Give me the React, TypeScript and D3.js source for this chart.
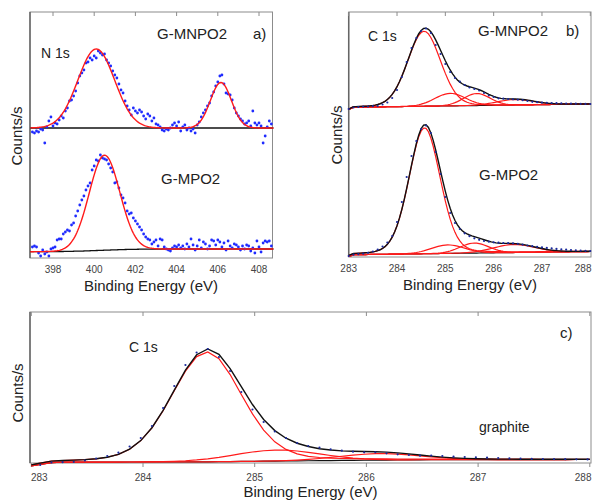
import React from "react";
import * as d3 from "d3";

const FONT = "'Liberation Sans', Arial, Helvetica, sans-serif";

// ---------- Panel a: N 1s ----------
const N1S_TICKS = [398, 400, 402, 404, 406, 408];
// measured points, G-MNPO2 (upper trace)
const N1S_MNPO2_DOTS: [number, number][] = [
  [397.0,126],[397.1,125],[397.2,127],[397.3,126],[397.4,129],[397.5,128],[397.6,115],[397.7,131],[397.8,137],[397.9,141],
  [398.0,132],[398.1,135],[398.2,134],[398.3,138],[398.4,142],[398.5,140],[398.6,147],[398.7,150],[398.8,157],[398.9,158],
  [399.0,162],[399.1,167],[399.2,175],[399.3,182],[399.4,185],[399.5,188],[399.6,195],[399.7,196],[399.8,200],[399.9,198],
  [400.0,202],[400.1,200],[400.2,207],[400.3,205],[400.4,203],[400.5,204],[400.6,198],[400.7,195],[400.8,192],[400.9,187],
  [401.0,183],[401.1,180],[401.2,174],[401.3,168],[401.4,165],[401.5,157],[401.6,152],[401.7,148],[401.8,143],[401.9,150],
  [402.0,147],[402.1,145],[402.2,148],[402.3,146],[402.4,142],[402.5,139],[402.6,144],[402.7,142],[402.8,137],[402.9,140],
  [403.0,134],[403.1,133],[403.2,131],[403.3,128],[403.4,127],[403.5,129],[403.6,128],[403.7,130],[403.8,133],[403.9,135],
  [404.0,132],[404.1,136],[404.2,127],[404.3,131],[404.4,133],[404.5,128],[404.6,130],[404.7,127],[404.8,129],[404.9,125],
  [405.0,133],[405.1,136],[405.2,141],[405.3,145],[405.4,148],[405.5,152],[405.6,155],[405.7,162],[405.8,166],[405.9,172],
  [406.0,176],[406.1,182],[406.2,183],[406.3,174],[406.4,165],[406.5,164],[406.6,163],[406.7,158],[406.8,150],[406.9,145],
  [407.0,142],[407.1,139],[407.2,137],[407.3,134],[407.4,135],[407.5,137],[407.6,132],[407.7,147],[407.8,135],[407.9,133],
  [408.0,135],[408.1,132],[408.2,115],[408.3,122],[408.4,131],[408.5,137],[408.6,134],
];
// measured points, G-MPO2 (lower trace)
const N1S_MPO2_DOTS: [number, number][] = [
  [397.0,11],[397.1,12],[397.2,11],[397.3,5],[397.4,2],[397.5,8],[397.6,4],[397.7,6],[397.8,2],[397.9,9],
  [398.0,10],[398.1,11],[398.2,18],[398.3,19],[398.4,19],[398.5,24],[398.6,26],[398.7,28],[398.8,27],[398.9,33],
  [399.0,35],[399.1,42],[399.2,47],[399.3,53],[399.4,58],[399.5,62],[399.6,68],[399.7,72],[399.8,75],[399.9,88],
  [400.0,92],[400.1,98],[400.2,97],[400.3,103],[400.4,100],[400.5,99],[400.6,98],[400.7,94],[400.8,90],[400.9,86],
  [401.0,75],[401.1,76],[401.2,70],[401.3,63],[401.4,60],[401.5,55],[401.6,47],[401.7,44],[401.8,45],[401.9,40],
  [402.0,37],[402.1,34],[402.2,31],[402.3,28],[402.4,24],[402.5,21],[402.6,19],[402.7,18],[402.8,14],[402.9,16],
  [403.0,18],[403.1,12],[403.2,19],[403.3,18],[403.4,11],[403.5,9],[403.6,8],[403.7,7],[403.8,10],[403.9,12],
  [404.0,11],[404.1,13],[404.2,10],[404.3,12],[404.4,9],[404.5,14],[404.6,11],[404.7,19],[404.8,13],[404.9,8],
  [405.0,12],[405.1,18],[405.2,10],[405.3,16],[405.4,14],[405.5,9],[405.6,12],[405.7,18],[405.8,17],[405.9,13],
  [406.0,18],[406.1,16],[406.2,11],[406.3,15],[406.4,8],[406.5,17],[406.6,12],[406.7,10],[406.8,14],[406.9,13],
  [407.0,11],[407.1,8],[407.2,12],[407.3,9],[407.4,13],[407.5,12],[407.6,7],[407.7,10],[407.8,5],[407.9,17],
  [408.0,11],[408.1,6],[408.2,15],[408.3,17],[408.4,16],[408.5,17],[408.6,12],
];
// fitted backgrounds [energy, counts]
const N1S_MNPO2_BG: [number, number][] = [[396.9,130],[408.7,130]];
const N1S_MPO2_BG: [number, number][] = [[396.9,6.3],[398.5,6.5],[399.5,7],[400.5,7.8],[401.5,8.5],[402.5,8.9],[403.5,9],[408.7,9]];
// fitted peaks: centre (eV), height, FWHM (eV), Lorentzian fraction
const N1S_MNPO2_PEAKS: [number, number, number, number][] = [[400.1,79,2.1,0],[406.15,45.5,1.2,0]];
const N1S_MPO2_PEAKS: [number, number, number, number][] = [[400.5,95,1.75,0]];

// ---------- Panel b: C 1s of G-MNPO2 / G-MPO2 ----------
const C1S_TICKS = [283, 284, 285, 286, 287, 288];
const C1S_MNPO2_DOTS: [number, number][] = [
  [283.0,148],[283.1,149.5],[283.2,150],[283.3,150.3],[283.4,150.5],[283.5,150.8],[283.6,151],[283.7,152.5],[283.8,154.5],[283.9,159],
  [284.0,167],[284.1,180],[284.2,195],[284.3,209],[284.4,219],[284.5,226],[284.6,228.5],[284.7,224],[284.8,212],[284.9,203],
  [285.0,193],[285.1,185],[285.2,179],[285.3,175.3],[285.4,172],[285.5,169.5],[285.6,168],[285.7,166.5],[285.8,164],[285.9,161.5],
  [286.0,160],[286.1,158.7],[286.2,158.3],[286.3,158],[286.4,157.7],[286.5,157.3],[286.6,156.8],[286.7,156],[286.8,155.2],[286.9,154.8],
  [287.0,154.4],[287.1,154.2],[287.2,154],[287.3,153.8],[287.4,153.7],[287.5,153.5],[287.6,153.4],[287.7,153.3],[287.8,153.2],[287.9,153.1],
  [288.0,153],
];
const C1S_MPO2_DOTS: [number, number][] = [
  [283.0,1],[283.1,2.3],[283.2,2.8],[283.3,3.3],[283.4,4.2],[283.5,5.5],[283.6,7.5],[283.7,10.5],[283.8,14.5],[283.9,21],
  [284.0,35],[284.1,55],[284.2,80],[284.3,101],[284.4,116],[284.5,128],[284.6,131.5],[284.7,124],[284.8,105],[284.9,83],
  [285.0,60],[285.1,44],[285.2,34],[285.3,28],[285.4,23.7],[285.5,20.8],[285.6,18.7],[285.7,17.2],[285.8,16],[285.9,15.3],
  [286.0,14.7],[286.1,14.3],[286.2,14],[286.3,13.8],[286.4,13.6],[286.5,13.2],[286.6,12.3],[286.7,11.5],[286.8,10.8],[286.9,10.2],
  [287.0,9.6],[287.1,9.1],[287.2,8.6],[287.3,8.1],[287.4,7.7],[287.5,7.3],[287.6,7],[287.7,6.7],[287.8,6.4],[287.9,6.2],
  [288.0,6],
];
const C1S_MNPO2_BG: [number, number][] = [[283.0,147.5],[283.1,149.8],[288.0,153]];
const C1S_MPO2_BG: [number, number][] = [[283.0,0.5],[283.1,2.3],[288.0,5.5]];
const C1S_MNPO2_PEAKS: [number, number, number, number][] = [[284.56,75,0.8,0.1],[285.1,12.5,0.75,0],[285.65,12,0.65,0],[286.45,5.5,0.9,0]];
const C1S_MPO2_PEAKS: [number, number, number, number][] = [[284.57,126,0.76,0.15],[285.05,8.5,0.8,0],[285.6,10,0.7,0],[286.42,8,1.0,0]];

// ---------- Panel c: C 1s of graphite ----------
const GRAPHITE_DOTS: [number, number][] = [
  [283.08,-2],[283.18,0.5],[283.28,0.8],[283.38,1.2],[283.48,2.5],[283.58,4.5],[283.68,7],[283.78,10.3],[283.88,16.5],[283.98,25],
  [284.08,37],[284.18,55],[284.28,77],[284.38,98],[284.48,110.5],[284.58,114],[284.68,106],[284.78,92],[284.88,71],[284.98,53.5],
  [285.08,41],[285.18,31.5],[285.28,25],[285.38,20],[285.48,17],[285.58,15.3],[285.68,13.7],[285.78,12.3],[285.88,11.3],[285.98,10.7],
  [286.08,10.7],[286.18,9.7],[286.28,8.7],[286.38,8],[286.48,7.3],[286.58,7.5],[286.68,7],[286.78,6.3],[286.88,6],[286.98,5.7],
  [287.08,5.3],[287.18,5],[287.28,4.7],[287.38,4.4],[287.48,4.2],[287.58,4],[287.68,3.9],[287.78,3.8],[287.88,3.7],[287.98,3.6],
];
const GRAPHITE_BG: [number, number][] = [[283.0,-3],[283.1,-1],[283.2,0.8],[284.6,1.2],[285.6,2.4],[286.6,3.3],[288.0,3.5]];
const GRAPHITE_PEAKS: [number, number, number, number][] = [[284.57,110,0.74,0.2],[285.2,11,0.9,0],[286.12,6.5,0.85,0]];

// ---------- helpers ----------
function pv(e: number, p: [number, number, number, number]) {
  const [c, h, w, eta] = p;
  const d = e - c;
  const s = w / 2.35482;
  const g = Math.exp(-(d * d) / (2 * s * s));
  const l = 1 / (1 + (2 * d / w) ** 2);
  return h * (eta * l + (1 - eta) * g);
}
function bgFn(bg: [number, number][]) {
  return d3.scaleLinear().domain(bg.map((b) => b[0])).range(bg.map((b) => b[1])).clamp(true);
}

const RED = "#ff1a1a";
const BLACK = "#111111";
const FRAME = "#8c8c8c";

type XS = d3.ScaleLinear<number, number>;

function Frame(props: {
  xs: XS; left: number; right: number; top: number; bottom: number;
  ticks: number[]; labelY: number; outTicks?: boolean; firstStart?: boolean;
}) {
  const { xs, left, right, top, bottom, ticks, labelY, outTicks, firstStart } = props;
  return (
    <g>
      <rect x={left} y={top} width={right - left} height={bottom - top} fill="none" stroke={FRAME} strokeWidth={1} />
      <line x1={left} x2={left} y1={top} y2={bottom} stroke="#666" strokeWidth={1.5} />
      {ticks.map((t, i) => {
        const first = firstStart && i === 0;
        const tx = xs(t);
        const last = tx + 9 > 592;
        return (
          <g key={t}>
            <line x1={tx} x2={tx} y1={top} y2={top + 4} stroke={FRAME} strokeWidth={1} />
            {outTicks && <line x1={tx} x2={tx} y1={bottom} y2={bottom + 4} stroke={FRAME} strokeWidth={1} />}
            <text x={first ? left + 1 : last ? 591.5 : tx} y={labelY}
              textAnchor={first ? "start" : last ? "end" : "middle"} fontSize={10} fill="#444" fontFamily={FONT}>{t}</text>
          </g>
        );
      })}
    </g>
  );
}

function Label(props: { x: number; y: number; size?: number; children: React.ReactNode; anchor?: string }) {
  return (
    <text x={props.x} y={props.y} fontSize={props.size ?? 15} fill="#222" fontFamily={FONT}
      textAnchor={(props.anchor as any) ?? "start"}>{props.children}</text>
  );
}

function VLabel(props: { x: number; y: number; text: string }) {
  return (
    <text transform={`translate(${props.x},${props.y}) rotate(-90)`} textAnchor="middle"
      fontSize={15} fill="#222" fontFamily={FONT}>{props.text}</text>
  );
}

function Dots(props: { data: [number, number][]; xs: XS; ys: XS; r: number; fill: string }) {
  return (
    <g>
      {props.data.map((d, i) => (
        <circle key={i} cx={props.xs(d[0])} cy={props.ys(d[1])} r={props.r} fill={props.fill} />
      ))}
    </g>
  );
}

// Decomposed spectrum (panels b and c)
function Decomposed(props: {
  xs: XS; ys: XS; grid: number[]; bg: [number, number][]; peaks: [number, number, number, number][];
  dots: [number, number][];
}) {
  const { xs, ys, grid, bg, peaks, dots } = props;
  const b = bgFn(bg);
  const line = d3.line<[number, number]>().x((d) => xs(d[0])).y((d) => ys(d[1]));
  const base = grid.map((e) => [e, b(e)] as [number, number]);
  const comps = peaks.map((p) => grid.map((e) => [e, b(e) + pv(e, p)] as [number, number]));
  const env = grid.map((e) => [e, b(e) + peaks.reduce((s, p) => s + pv(e, p), 0)] as [number, number]);
  return (
    <g>
      <path d={line(base) ?? ""} fill="none" stroke={BLACK} strokeWidth={1.2} />
      {comps.map((c, i) => (
        <path key={i} d={line(c) ?? ""} fill="none" stroke={RED} strokeWidth={1.2} />
      ))}
      <path d={line(env) ?? ""} fill="none" stroke={BLACK} strokeWidth={1.4} />
      <Dots data={dots} xs={xs} ys={ys} r={1.1} fill="#1b2a9c" />
    </g>
  );
}

// Panel a spectrum
function N1sTrace(props: {
  xs: XS; ys: XS; bg: [number, number][]; peaks: [number, number, number, number][]; dots: [number, number][];
}) {
  const { xs, ys, bg, peaks, dots } = props;
  const b = bgFn(bg);
  const grid = d3.range(396.9, 408.71, 0.05);
  const line = d3.line<[number, number]>().x((d) => xs(d[0])).y((d) => ys(d[1]));
  const base = grid.map((e) => [e, b(e)] as [number, number]);
  const fit = grid.map((e) => [e, b(e) + peaks.reduce((s, p) => s + pv(e, p), 0)] as [number, number]);
  return (
    <g>
      <path d={line(base) ?? ""} fill="none" stroke={BLACK} strokeWidth={1.3} />
      <Dots data={dots} xs={xs} ys={ys} r={1.4} fill="#1f2bff" />
      <path d={line(fit) ?? ""} fill="none" stroke={RED} strokeWidth={1.4} />
    </g>
  );
}

export default function App() {
  // panel a
  const xa = d3.scaleLinear().domain([398, 408]).range([53, 259]);
  const ya = d3.scaleLinear().domain([0, 246]).range([258, 12]);
  // panel b
  const xb = d3.scaleLinear().domain([283, 288]).range([348.7, 590.3]);
  const yb = d3.scaleLinear().domain([0, 245]).range([257, 12]);
  // panel c
  const xc = d3.scaleLinear().domain([283, 288]).range([31.3, 589.8]);
  const yc = d3.scaleLinear().domain([0, 151]).range([463, 312]);

  const gridB = d3.range(283, 288.001, 0.05);
  const gridC = [283.0, 283.04, ...GRAPHITE_DOTS.map((d) => d[0]), 288.0];

  return (
    <svg width={592} height={501} viewBox="0 0 592 501"
      style={{ position: "absolute", left: 0, top: 0, background: "#fff" }}>
      <rect x={0} y={0} width={592} height={501} fill="#fff" />

      {/* ---- panel a ---- */}
      <Frame xs={xa} left={30} right={272.5} top={12} bottom={258} ticks={N1S_TICKS} labelY={272.5} />
      <N1sTrace xs={xa} ys={ya} bg={N1S_MNPO2_BG} peaks={N1S_MNPO2_PEAKS} dots={N1S_MNPO2_DOTS} />
      <N1sTrace xs={xa} ys={ya} bg={N1S_MPO2_BG} peaks={N1S_MPO2_PEAKS} dots={N1S_MPO2_DOTS} />
      <Label x={157} y={39}>G-MNPO2</Label>
      <Label x={253} y={39}>a)</Label>
      <Label x={41} y={58} size={14}>N 1s</Label>
      <Label x={161} y={183.5}>G-MPO2</Label>
      <Label x={151} y={291} anchor="middle">Binding Energy (eV)</Label>
      <VLabel x={22} y={136} text="Counts/s" />

      {/* ---- panel b ---- */}
      <Frame xs={xb} left={348.7} right={591} top={12} bottom={257} ticks={C1S_TICKS} labelY={271.5} />
      <Decomposed xs={xb} ys={yb} grid={gridB} bg={C1S_MNPO2_BG} peaks={C1S_MNPO2_PEAKS} dots={C1S_MNPO2_DOTS} />
      <Decomposed xs={xb} ys={yb} grid={gridB} bg={C1S_MPO2_BG} peaks={C1S_MPO2_PEAKS} dots={C1S_MPO2_DOTS} />
      <Label x={368} y={40.5} size={14}>C 1s</Label>
      <Label x={478} y={35.5}>G-MNPO2</Label>
      <Label x={566} y={35.5}>b)</Label>
      <Label x={479} y={180}>G-MPO2</Label>
      <Label x={470} y={289.5} anchor="middle">Binding Energy (eV)</Label>
      <VLabel x={342} y={135} text="Counts/s" />

      {/* ---- panel c ---- */}
      <Frame xs={xc} left={30} right={591} top={312} bottom={463} ticks={C1S_TICKS} labelY={481} outTicks firstStart />
      <Decomposed xs={xc} ys={yc} grid={gridC} bg={GRAPHITE_BG} peaks={GRAPHITE_PEAKS} dots={GRAPHITE_DOTS} />
      <Label x={129} y={351.5} size={14}>C 1s</Label>
      <Label x={560} y={338}>c)</Label>
      <Label x={479} y={431.5} size={14}>graphite</Label>
      <Label x={310.5} y={497} anchor="middle">Binding Energy (eV)</Label>
      <VLabel x={23} y={393} text="Counts/s" />
    </svg>
  );
}
